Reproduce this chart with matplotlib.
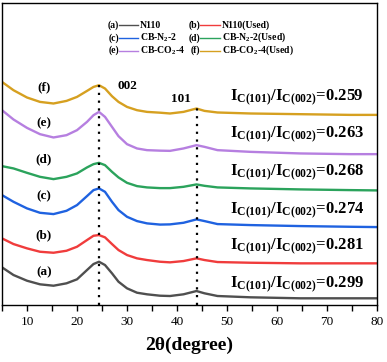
import matplotlib
matplotlib.use('Agg')
import matplotlib.pyplot as plt
from matplotlib.ticker import MultipleLocator

plt.rcParams['font.family'] = 'Liberation Serif'
plt.rcParams['mathtext.fontset'] = 'custom'
plt.rcParams['mathtext.rm'] = 'Liberation Serif'
plt.rcParams['mathtext.bf'] = 'Liberation Serif:bold'
plt.rcParams['mathtext.it'] = 'Liberation Serif:italic'

# 2theta sample points and stacked intensities (a.u., offset already included)
two_theta = [5, 7.3, 10, 12.6, 15.3, 17.9, 20, 22, 23.3, 24.4, 25.6, 27, 28.3, 30, 32, 34,
             36.6, 38.6, 41.3, 43.9, 45.5, 48.1, 54.7, 64.7, 74.7, 80]
int_a = [42.7, 35, 29.3, 25.7, 24.3, 26.7, 30.7, 40, 46, 48.3, 45, 36.7, 28.3, 21.7, 17.3, 15.7,
         14.3, 14, 15.7, 19, 16.7, 14, 12.7, 11.7, 11.7, 11.7]
int_b = [71.7, 66, 61.7, 58.3, 57.3, 59.3, 63.3, 70, 74.3, 75, 72.7, 66, 60, 55, 51.7, 50,
         48.3, 47.7, 49, 51.7, 50, 48, 47.3, 46.7, 46.7, 46.7]
int_c = [115, 108.3, 101.7, 97.3, 96, 99.3, 105, 114, 120, 121.7, 118.3, 108.3, 100, 93.3, 89, 86.7,
         85.5, 85.7, 87.3, 90.7, 89, 86, 85, 84, 83.3, 83]
int_d = [144, 141.7, 137.3, 133.3, 131, 133.3, 136.7, 142.7, 146, 147.3, 145, 138.3, 132.7, 127.3, 124, 122.7,
         122, 122, 123.3, 125.7, 124.3, 122.7, 121.7, 120.7, 120, 119.7]
int_e = [200, 190.7, 182.3, 176, 172.7, 175, 180, 188.3, 195, 198.3, 193.3, 183.3, 174, 166, 161.7, 160,
         159.5, 159.3, 161.7, 165, 163.3, 160, 158.3, 156.7, 156, 156]
int_f = [228.3, 220, 212.7, 208.3, 206.7, 209.3, 213.3, 219.3, 223.3, 225, 221.7, 214, 208.3, 203.3, 200, 198.3,
         197.5, 196.7, 198.3, 201.7, 199.3, 197.7, 196.7, 196, 195.3, 195.3]

curves = [int_a, int_b, int_c, int_d, int_e, int_f]
tags = ['(a)', '(b)', '(c)', '(d)', '(e)', '(f)']
names = ['N110', 'N110(Used)', r'CB-N$_\mathbf{2}$-2', r'CB-N$_\mathbf{2}$-2(Used)',
         r'CB-CO$_\mathbf{2}$-4', r'CB-CO$_\mathbf{2}$-4(Used)']
colors = ['#4f4f4f', '#f03c3c', '#1f62e0', '#2ba35c', '#b67fe0', '#d6a020']
ratios = [0.299, 0.281, 0.274, 0.268, 0.263, 0.259]
tag_y = [37.5, 75, 114, 151, 187, 223]
ratio_y = [25, 63, 99.5, 137.5, 175, 212.7]
peak_002 = 24.4
peak_101 = 43.9

fig = plt.figure(figsize=(3.87, 3.62), dpi=100)
ax = fig.add_axes([2 / 387, 57 / 362, 375 / 387, 302 / 362])

for y, c in zip(curves, colors):
    ax.plot(two_theta, y, color=c, lw=1.7)

for t, ty in zip(tags, tag_y):
    ax.text(13.4, ty, t, fontsize=9.5, fontweight='bold', ha='center', va='center')

for r, ry in zip(ratios, ratio_y):
    ax.text(50.6, ry, r'$\mathbf{I_{C(101)}/I_{C(002)}}$=%.3f' % r,
            fontsize=12, fontweight='bold', ha='left', va='center')

ax.vlines(peak_002, 5, 228, colors='black', linestyles=(0, (1, 2.5)), lw=1.6)
ax.vlines(peak_101, 5, 205, colors='black', linestyles=(0, (1, 2.5)), lw=1.6)
ax.text(28.0, 224.5, '002', fontsize=9.5, fontweight='bold', ha='left', va='center')
ax.text(38.7, 211.7, '101', fontsize=9.5, fontweight='bold', ha='left', va='center')

# legend drawn by hand: "(a)----N110" style, two columns
def fx(px):
    return (px - 2) / 375

def fy(py):
    return (305 - py) / 302

leg_rows = [25, 37.7, 50.5]
leg_cols = [(119, 138), (200, 220)]
for i in range(6):
    col = i % 2
    row = i // 2
    x0, x1 = leg_cols[col]
    yy = fy(leg_rows[row])
    ax.plot([fx(x0), fx(x1)], [yy, yy], color=colors[i], lw=1.0, transform=ax.transAxes)
    ax.text(fx(x0), yy, tags[i], fontsize=7, fontweight='bold', ha='right', va='center',
            transform=ax.transAxes)
    ax.text(fx(x1 + 2), yy, names[i], fontsize=7, fontweight='bold', ha='left', va='center',
            transform=ax.transAxes)

ax.set_xlim(5, 80)
ax.set_ylim(5, 307.3)
ax.set_yticks([])
ax.xaxis.set_major_locator(MultipleLocator(10))
ax.xaxis.set_minor_locator(MultipleLocator(5))
ax.tick_params(axis='x', which='major', direction='out', length=4, width=1, labelsize=9.5, pad=4)
ax.tick_params(axis='x', which='minor', direction='out', length=4, width=1)
for s in ax.spines.values():
    s.set_linewidth(1.0)
ax.set_xlabel('2θ(degree)', fontsize=14, fontweight='bold', labelpad=6)

fig.savefig('out.png', dpi=100)
